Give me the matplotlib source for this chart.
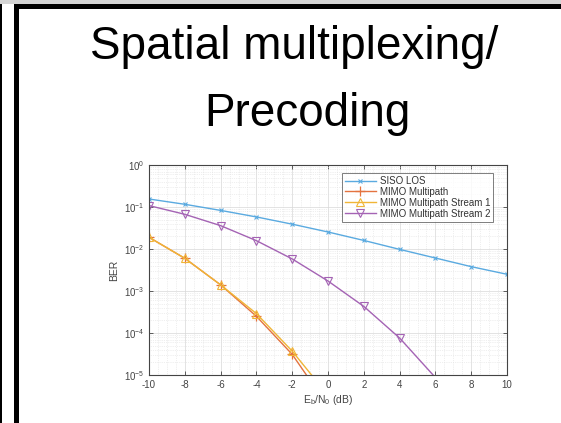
import matplotlib
matplotlib.use("Agg")
import matplotlib.pyplot as plt
from matplotlib.lines import Line2D
from matplotlib.patches import Rectangle
from matplotlib.ticker import LogLocator, NullFormatter

plt.rcParams["font.family"] = ["Liberation Sans", "DejaVu Sans"]
plt.rcParams["mathtext.fontset"] = "custom"
plt.rcParams["mathtext.rm"] = "Liberation Sans"
plt.rcParams["mathtext.it"] = "Liberation Sans:italic"

# Eb/N0 in dB
ebno = [-10, -8, -6, -4, -2, 0, 2, 4, 6, 8, 10]
ebno_mimo = [-10, -8, -6, -4, -2, 0]
ebno_s2 = [-10, -8, -6, -4, -2, 0, 2, 4, 6]

# BER values
ber_siso = [0.155, 0.116, 0.083, 0.058, 0.039, 0.0254, 0.016, 0.0098, 0.0061, 0.0038, 0.0025]
ber_mimo = [0.019, 0.006, 0.0014, 2.5e-4, 3.1e-5, 1.8e-6]
ber_stream1 = [0.019, 0.006, 0.0014, 2.9e-4, 3.7e-5, 3.3e-6]
ber_stream2 = [0.108, 0.067, 0.036, 0.0158, 0.0058, 0.00173, 0.00043, 7.6e-5, 8.7e-6]

labels = ["SISO LOS", "MIMO Multipath", "MIMO Multipath Stream 1", "MIMO Multipath Stream 2"]
xticks = [-10, -8, -6, -4, -2, 0, 2, 4, 6, 8, 10]

BER_MIN = 1e-5

W, H = 561, 423
fig = plt.figure(figsize=(W / 100, H / 100), dpi=100)
fig.patch.set_facecolor("white")

# slide frame
bg = fig.add_axes([0, 0, 1, 1])
bg.set_xlim(0, W)
bg.set_ylim(H, 0)
bg.axis("off")
bg.add_patch(Rectangle((0, 0), W, 4.5, color="#d4d4d4", lw=0))
bg.add_patch(Rectangle((0, 4.5), 2, H, color="black", lw=0))
bg.add_patch(Rectangle((14, 4.5), 5, H, color="black", lw=0))
bg.add_patch(Rectangle((14, 4.5), W, 5, color="black", lw=0))

bg.text(294.5, 59, "Spatial multiplexing/", ha="center", va="baseline", fontsize=33, color="black")
bg.text(307.5, 126, "Precoding", ha="center", va="baseline", fontsize=33, color="black")

# chart axes
x0, x1, y0, y1 = 149, 507, 165, 375
ax = fig.add_axes([x0 / W, 1 - y1 / H, (x1 - x0) / W, (y1 - y0) / H])


def plot_series(x, y, color, marker, ms, mew, mfc):
    # line through every point, markers only where they fall inside the axes (like MATLAB)
    ax.semilogy(x, y, color=color, lw=1.0)
    xs = [a for a, b in zip(x, y) if b >= BER_MIN]
    ys = [b for b in y if b >= BER_MIN]
    ax.semilogy(xs, ys, ls="none", color=color, marker=marker, ms=ms, mew=mew, mfc=mfc)
    return Line2D([], [], color=color, lw=1.0, marker=marker, ms=ms, mew=mew, mfc=mfc)


handles = [
    plot_series(ebno, ber_siso, "#5aaae0", "x", 3.5, 0.8, "#5aaae0"),
    plot_series(ebno_mimo, ber_mimo, "#e4733f", "+", 6.5, 0.9, "#e4733f"),
    plot_series(ebno_mimo, ber_stream1, "#f0b536", "^", 5.5, 0.8, "none"),
    plot_series(ebno_s2, ber_stream2, "#a463b4", "v", 5.5, 0.8, "none"),
]

ax.set_xlim(-10, 10)
ax.set_ylim(BER_MIN, 1)
ax.set_xticks(xticks)
ax.set_xticklabels([str(t) for t in xticks])
ax.yaxis.set_major_locator(LogLocator(base=10, numticks=10))
ax.yaxis.set_minor_locator(LogLocator(base=10, subs=range(2, 10), numticks=20))
ax.yaxis.set_minor_formatter(NullFormatter())
ax.set_xticks([x / 2 for x in range(-20, 21)], minor=True)

ax.grid(True, which="major", color="#d8d8d8", lw=0.5, ls="-")
ax.grid(True, which="minor", color="#e0e0e0", lw=0.5, ls=":")
ax.set_axisbelow(True)

ax.tick_params(which="both", direction="in", top=True, right=True, labelsize=7,
               colors="#444444", width=0.6)
ax.tick_params(which="major", length=3)
ax.tick_params(which="minor", length=0)
for s in ax.spines.values():
    s.set_color("#444444")
    s.set_linewidth(0.8)

ax.set_xlabel(r"E$_\mathrm{b}$/N$_\mathrm{0}$ (dB)", fontsize=7.5, color="#444444", labelpad=2)
ax.set_ylabel("BER", fontsize=7.5, color="#444444", labelpad=3)

leg = ax.legend(handles, labels, loc="upper right", bbox_to_anchor=(493 / W, 1 - 173 / H),
                bbox_transform=fig.transFigure, borderaxespad=0,
                fontsize=7, frameon=True, fancybox=False,
                edgecolor="#444444", borderpad=0.3, labelspacing=0.1,
                handlelength=3.2, handletextpad=0.4)
leg.get_frame().set_linewidth(0.6)
for t in leg.get_texts():
    t.set_color("#333333")

fig.savefig("out.png", dpi=100)
